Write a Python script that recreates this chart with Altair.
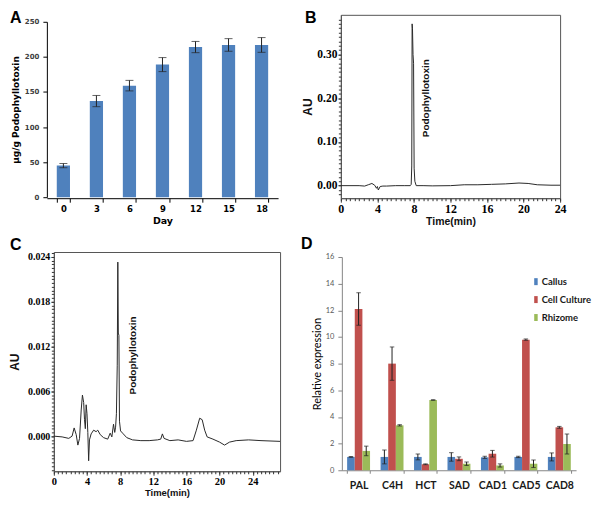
import altair as alt
import pandas as pd

# ---------------- Panel A : podophyllotoxin content ----------------
a_days = ["0", "3", "6", "9", "12", "15", "18"]
a_content = [45, 137, 159, 189, 214, 217, 217]
a_error = [3, 8, 7.5, 10, 8, 9, 10.5]
a_yticks = [0, 50, 100, 150, 200, 250]

# ---------------- Panel B : HPLC of standard ----------------
b_time = [0, 1, 2, 2.6, 3.0, 3.4, 3.7, 3.9, 4.0, 4.1, 4.3, 4.6, 5.0, 6.0, 7.0, 7.6, 7.7, 7.76,
          7.8, 7.84, 7.9, 7.96, 8.02, 8.1, 8.25, 9, 10, 12, 13.5, 15, 16.5, 18, 19.5, 20.5,
          21.5, 23, 24]
b_au = [0, 0, 0, -0.001, 0.002, 0.005, 0.001, -0.006, -0.002, -0.010, -0.002, -0.001, -0.001,
        0, 0, 0, 0.003, 0.045, 0.37, 0.36, 0.30, 0.28, 0.04, 0.01, 0, 0, -0.0005, 0, 0.002,
        0.002, 0.003, 0.004, 0.006, 0.005, 0.002, 0.001, 0.001]
b_xticks = [0, 4, 8, 12, 16, 20, 24]
b_yticks = [0.0, 0.1, 0.2, 0.3]

# ---------------- Panel C : HPLC of cell culture extract ----------------
c_time = [0, 1.0, 1.8, 2.2, 2.45, 2.7, 2.9, 3.1, 3.3, 3.45, 3.6, 3.7, 3.8, 3.9, 4.0, 4.1, 4.2,
          4.3, 4.5, 4.8, 5.1, 5.3, 5.6, 6.0, 6.5, 6.8, 7.0, 7.2, 7.35, 7.45, 7.55, 7.65, 7.72,
          7.78, 7.85, 7.92, 8.05, 8.3, 8.8, 9.5, 10.5, 11.5, 12.5, 12.9, 13.1, 13.3, 14, 15, 16,
          16.8, 17.2, 17.6, 17.9, 18.2, 18.5, 19.2, 20.0, 20.6, 21.2, 22, 23.5, 25, 27.3]
c_au = [0, -0.0001, -0.0003, 0.0, 0.0011, 0.0002, -0.0012, -0.0003, 0.0035, 0.0055, 0.0045,
        0.0022, 0.0010, 0.0042, 0.0030, 0.0005, -0.0033, -0.0005, 0.0003, 0.0008, 0.0006,
        0.0008, 0.0002, -0.0002, -0.0004, 0.0004, -0.0001, 0.0016, 0.0005, 0.0012, 0.0030,
        0.0095, 0.0233, 0.0138, 0.0135, 0.0020, 0.0007, 0.0004, -0.0002, -0.0005, -0.0006,
        -0.0006, -0.0005, -0.0004, 0.0003, -0.0003, -0.0006, -0.0005, -0.0007, -0.0006, 0.0008,
        0.0024, 0.0022, 0.0008, -0.0001, -0.0004, -0.0008, -0.0012, -0.0008, -0.0006, -0.0005,
        -0.0006, -0.0007]
c_xticks = [0, 4, 8, 12, 16, 20, 24]
c_yticks = [0.0, 0.006, 0.012, 0.018, 0.024]

# ---------------- Panel D : relative expression ----------------
d_genes = ["PAL", "C4H", "HCT", "SAD", "CAD1", "CAD5", "CAD8"]
d_series = ["Callus", "Cell Culture", "Rhizome"]
d_colors = ["#4F81BD", "#C0504D", "#9BBB59"]
d_callus = [1.0, 1.0, 1.0, 1.0, 0.97, 1.0, 1.0]
d_callus_err = [0.03, 0.52, 0.22, 0.32, 0.08, 0.05, 0.3]
d_cell = [12.1, 8.0, 0.45, 0.86, 1.24, 9.8, 3.22]
d_cell_err = [1.22, 1.25, 0.03, 0.14, 0.25, 0.05, 0.07]
d_rhizome = [1.45, 3.37, 5.27, 0.49, 0.36, 0.49, 1.97]
d_rhizome_err = [0.36, 0.05, 0.02, 0.13, 0.12, 0.28, 0.75]
d_yticks = [0, 2, 4, 6, 8, 10, 12, 14, 16]

SERIF = "Liberation Serif"
SANS = "Liberation Sans"


def letter(txt, dx, dy):
    return alt.Chart(pd.DataFrame({"L": [txt]})).mark_text(
        text=txt, font=SANS, fontSize=16, fontWeight="bold", color="black",
        align="left", baseline="top"
    ).encode(x=alt.value(dx), y=alt.value(dy))


# ======== A ========
a_df = pd.DataFrame({"day": a_days, "v": a_content, "e": a_error})
a_df["lo"] = a_df["v"] - a_df["e"]
a_df["hi"] = a_df["v"] + a_df["e"]

A_H = 184
a_xscale = alt.Scale(range=[-7, 225], paddingInner=0.6, paddingOuter=0.3)
a_yscale = alt.Scale(domain=[0, 250], range=[A_H - 1, 7], nice=False)
a_xaxis = alt.Axis(labelFont="DejaVu Sans", labelFontWeight="bold", labelFontSize=8.5,
                   labelColor="black", labelAngle=0, tickSize=4, tickBand="extent",
                   labelPadding=2, domainColor="black", tickColor="black",
                   title="Day", titleFont="DejaVu Sans", titleFontSize=9.5,
                   titleFontWeight="bold", titleColor="black", titlePadding=3, grid=False)
a_yaxis = alt.Axis(values=a_yticks, offset=7, labelFont="DejaVu Sans",
                   labelFontWeight="bold", labelFontSize=7, labelColor="#404040",
                   labelOverlap=False, tickSize=4, labelPadding=4, tickColor="black",
                   domainColor="black", title="µg/g Podophyllotoxin",
                   titleFont="DejaVu Sans", titleFontSize=9, titleFontWeight="bold",
                   titleColor="black", titlePadding=4, grid=False)
a_x = alt.X("day:N", sort=a_days, scale=a_xscale, axis=a_xaxis)
a_bars = alt.Chart(a_df).mark_bar(color="#4F81BD").encode(
    x=a_x, y=alt.Y("v:Q", scale=a_yscale, axis=a_yaxis))
a_rule = alt.Chart(a_df).mark_rule(color="#222", strokeWidth=1).encode(
    x=a_x, y=alt.Y("lo:Q", scale=a_yscale, axis=a_yaxis), y2="hi:Q")
a_tlo = alt.Chart(a_df).mark_tick(color="#222", size=8, thickness=1).encode(
    x=a_x, y=alt.Y("lo:Q", scale=a_yscale, axis=a_yaxis))
a_thi = alt.Chart(a_df).mark_tick(color="#222", size=8, thickness=1).encode(
    x=a_x, y=alt.Y("hi:Q", scale=a_yscale, axis=a_yaxis))
chartA = alt.layer(a_bars, a_rule, a_tlo, a_thi, letter("A", -44, -5)).properties(
    width=225, height=A_H)


# ======== chromatogram helper ========
def chromatogram(times, vals, xdom, ydom, xticks, yticks, yfmt, xminor, yminor,
                 xlab_size, ylab_size, ann_x, ann_y, w, h, let, let_dx, let_dy, title_pad_y,
                 ttl_size, ttl_pad_x):
    df = pd.DataFrame({"t": times, "au": vals})
    xs = alt.Scale(domain=xdom, nice=False, zero=False)
    ys = alt.Scale(domain=ydom, nice=False, zero=False)
    main = alt.Chart(df).mark_line(color="#2a2a2a", strokeWidth=1).encode(
        x=alt.X("t:Q", scale=xs,
                axis=alt.Axis(orient="bottom", values=xticks, format="d", labelFont=SERIF,
                              labelFontWeight="bold", labelFontSize=xlab_size,
                              labelColor="black", tickSize=4, tickColor="#444",
                              domainColor="#555", labelPadding=1, labelFlush=False,
                              labelOverlap=False,
                              title="Time(min)", titleFont=SANS, titleFontSize=ttl_size,
                              titleFontWeight="bold", titleColor="#111",
                              titlePadding=ttl_pad_x, grid=False)),
        y=alt.Y("au:Q", scale=ys,
                axis=alt.Axis(orient="left", values=yticks, format=yfmt, labelFont=SERIF,
                              labelFontWeight="bold", labelFontSize=ylab_size,
                              labelColor="black", tickSize=3, tickColor="#444",
                              domainColor="#555", labelPadding=1, labelFlush=False,
                              labelOverlap=False,
                              title="AU", titleFont=SANS, titleFontSize=12,
                              titleFontWeight="bold", titleColor="#111",
                              titlePadding=title_pad_y, grid=False)),
    )
    minor = alt.Chart(df).mark_line(strokeOpacity=0).encode(
        x=alt.X("t:Q", scale=xs,
                axis=alt.Axis(orient="bottom", values=xminor, labels=False, domain=False,
                              tickSize=2.5, tickColor="#333", title=None, grid=False)),
        y=alt.Y("au:Q", scale=ys,
                axis=alt.Axis(orient="left", values=yminor, labels=False, domain=False,
                              tickSize=2.5, tickColor="#333", title=None, grid=False)),
    )
    ann = alt.Chart(pd.DataFrame({"n": ["Podophyllotoxin"]})).mark_text(
        text="Podophyllotoxin", angle=270, font=SANS, fontSize=10, fontWeight="bold",
        color="#111", align="center", baseline="middle"
    ).encode(x=alt.XDatum(ann_x, axis=None), y=alt.YDatum(ann_y, axis=None))
    return alt.layer(main, minor, ann, letter(let, let_dx, let_dy)).resolve_axis(
        x="independent", y="independent").properties(
        width=w, height=h, view=alt.ViewBackground(stroke="#555", strokeWidth=1))


b_xminor = [i * 0.5 for i in range(0, 49)]
b_yminor = [round(-0.02 + i * 0.01, 3) for i in range(0, 41)]
chartB = chromatogram(b_time, b_au, [0, 24], [-0.0287, 0.3907], b_xticks, b_yticks, ".2f",
                      b_xminor, b_yminor, 12, 11.5, 9.3, 0.2, 220, A_H, "B", -36, -5, 2,
                      10.5, 2)

c_xminor = [i * 0.5 for i in range(0, 55)]
c_yminor = [round(i * 0.0005, 4) for i in range(-9, 50)]
chartC = chromatogram(c_time, c_au, [0, 27.3], [-0.0047, 0.02465], c_xticks, c_yticks, ".3f",
                      c_xminor, c_yminor, 10.5, 10, 9.6, 0.0108, 227, 220, "C", -44, -15, 6,
                      9.5, 1)

# ======== D ========
rows = []
for i, g in enumerate(d_genes):
    for s, vals, errs in [("Callus", d_callus, d_callus_err),
                          ("Cell Culture", d_cell, d_cell_err),
                          ("Rhizome", d_rhizome, d_rhizome_err)]:
        rows.append({"gene": g, "series": s, "v": vals[i], "lo": vals[i] - errs[i],
                     "hi": vals[i] + errs[i]})
d_df = pd.DataFrame(rows)

d_xscale = alt.Scale(paddingInner=0.315, paddingOuter=0.1575)
d_yscale = alt.Scale(domain=[0, 16], nice=False)
d_xaxis = alt.Axis(labelFont="Lato", labelFontWeight="bold", labelFontSize=10.5,
                   labelColor="#1a1a1a", labelAngle=0, tickBand="extent", tickSize=3,
                   labelPadding=7, domainColor="#868686", tickColor="#868686",
                   title=None, grid=False)
d_yaxis = alt.Axis(values=d_yticks, labelFont="Lato", labelFontSize=7.5,
                   labelColor="#595959", labelOverlap=False, tickSize=4, labelPadding=4,
                   tickColor="#868686", domainColor="#868686",
                   title="Relative expression", titleFont="Lato", titleFontSize=11,
                   titleFontWeight="normal", titleColor="black", titlePadding=3, grid=False)
dxo = alt.XOffset("series:N", sort=d_series, scale=alt.Scale(paddingInner=0, paddingOuter=0))
d_x = alt.X("gene:N", sort=d_genes, scale=d_xscale, axis=d_xaxis)
d_bars = alt.Chart(d_df).mark_bar().encode(
    x=d_x, xOffset=dxo,
    y=alt.Y("v:Q", scale=d_yscale, axis=d_yaxis),
    color=alt.Color("series:N", sort=d_series,
                    scale=alt.Scale(domain=d_series, range=d_colors),
                    legend=alt.Legend(title=None, orient="none", legendX=190, legendY=20,
                                      symbolType="M-0.5,-1L0.5,-1L0.5,1L-0.5,1Z",
                                      symbolSize=49, symbolStrokeWidth=0, labelFont="Lato",
                                      labelFontSize=9.5, labelFontWeight="bold",
                                      labelColor="#1a1a1a", rowPadding=7, labelOffset=1,
                                      padding=0)),
)
d_rule = alt.Chart(d_df).mark_rule(color="#222", strokeWidth=1).encode(
    x=d_x, xOffset=dxo, y=alt.Y("lo:Q", scale=d_yscale, axis=d_yaxis), y2="hi:Q")
d_tlo = alt.Chart(d_df).mark_tick(color="#222", size=4.5, thickness=1).encode(
    x=d_x, xOffset=dxo, y=alt.Y("lo:Q", scale=d_yscale, axis=d_yaxis))
d_thi = alt.Chart(d_df).mark_tick(color="#222", size=4.5, thickness=1).encode(
    x=d_x, xOffset=dxo, y=alt.Y("hi:Q", scale=d_yscale, axis=d_yaxis))
chartD = alt.layer(d_bars, d_rule, d_tlo, d_thi, letter("D", -41, -21)).properties(
    width=235, height=214)

chart = alt.concat(chartA, chartB, chartC, chartD, columns=2, align="none", bounds="full",
                   spacing={"row": 9, "column": 16}).resolve_legend(
    color="independent").properties(padding=0).configure_view(
    strokeWidth=0).configure_axis(grid=False)

chart.save("out.html", embed_options={"renderer": "svg", "actions": False})
